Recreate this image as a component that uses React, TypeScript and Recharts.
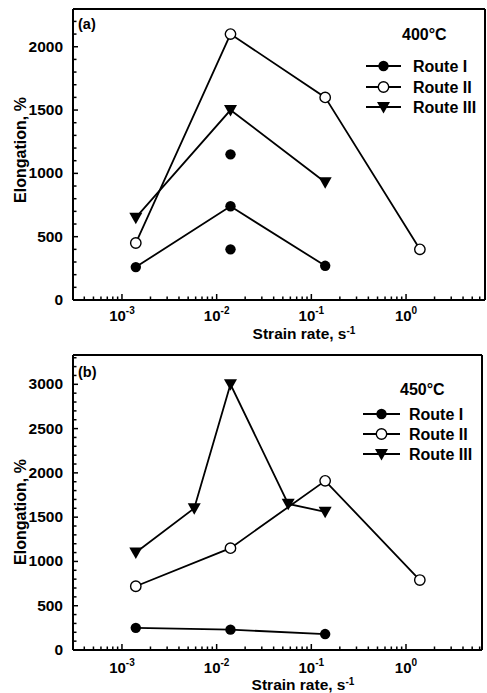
import React from 'react';
import { ComposedChart, Line, XAxis, YAxis, ReferenceLine } from 'recharts';

const FONT = '"Liberation Sans", Arial, Helvetica, sans-serif';

// ---- Data: panel (a) 400°C ----
const aRouteIRates = [1.4e-3, 1.4e-2, 1.4e-1];
const aRouteI = [260, 740, 270];
const aRouteIExtraRates = [1.4e-2, 1.4e-2];
const aRouteIExtra = [1150, 400];
const aRouteIIRates = [1.4e-3, 1.4e-2, 1.4e-1, 1.4];
const aRouteII = [450, 2100, 1600, 400];
const aRouteIIIRates = [1.4e-3, 1.4e-2, 1.4e-1];
const aRouteIII = [650, 1500, 930];

// ---- Data: panel (b) 450°C ----
const bRouteIRates = [1.4e-3, 1.4e-2, 1.4e-1];
const bRouteI = [250, 230, 180];
const bRouteIIRates = [1.4e-3, 1.4e-2, 1.4e-1, 1.4];
const bRouteII = [720, 1150, 1910, 790];
const bRouteIIIRates = [1.4e-3, 5.8e-3, 1.4e-2, 5.7e-2, 1.4e-1];
const bRouteIII = [1100, 1600, 3000, 1650, 1560];

// ---- Ticks ----
const xDecades = [1e-3, 1e-2, 1e-1, 1];
const xDecadeExponents = ['-3', '-2', '-1', '0'];
const yMajorA = [0, 500, 1000, 1500, 2000];
const yMajorB = [0, 500, 1000, 1500, 2000, 2500, 3000];
const legendNames = ['Route I', 'Route II', 'Route III'];

const zip = (xs: number[], ys: number[]) => xs.map((x, i) => ({ x, y: ys[i] }));

const X_MIN = 3.04e-4;

function minorXTicks(xMax: number) {
  const out: number[] = [];
  for (let d = -4; d <= 0; d++) {
    for (let m = 1; m <= 9; m++) {
      const v = m * Math.pow(10, d);
      if (v >= X_MIN && v <= xMax) out.push(v);
    }
  }
  return out;
}

function yTicksUpTo(max: number) {
  const out: number[] = [];
  for (let v = 0; v <= max; v += 100) out.push(v);
  return out;
}

type Kind = 'filled' | 'open' | 'tri';

function Marker({ kind, cx, cy }: { kind: Kind; cx: number; cy: number }) {
  if (kind === 'filled') return <circle cx={cx} cy={cy} r={5.2} fill="#000" />;
  if (kind === 'open') return <circle cx={cx} cy={cy} r={5.2} fill="#fff" stroke="#000" strokeWidth={1.4} />;
  return <path d={`M${cx - 6.5},${cy - 5}L${cx + 6.5},${cy - 5}L${cx},${cy + 6.5}Z`} fill="#000" />;
}

function XTick(props: any) {
  const { x, y, payload, labelDy } = props;
  const v = payload.value as number;
  const idx = xDecades.findIndex((d) => Math.abs(d - v) / d < 1e-6);
  const major = idx >= 0;
  return (
    <g>
      <line x1={x} x2={x} y1={y} y2={y - (major ? 6 : 3.5)} stroke="#000" strokeWidth={1.5} />
      {major && (
        <text x={x} y={y + labelDy} textAnchor="middle" fontFamily={FONT} fontWeight="bold" fontSize={15} fill="#000">
          10
          <tspan fontSize={10} dy={-7}>{xDecadeExponents[idx]}</tspan>
        </text>
      )}
    </g>
  );
}

function YTick(props: any) {
  const { x, y, payload, majors } = props;
  const v = payload.value as number;
  const major = majors.includes(v);
  return (
    <g>
      <line x1={x} x2={x + (major ? 5 : 3.5)} y1={y} y2={y} stroke="#000" strokeWidth={1.5} />
      {major && (
        <text x={x - 10} y={y + 5} textAnchor="end" fontFamily={FONT} fontWeight="bold" fontSize={15.5} fill="#000">
          {v}
        </text>
      )}
    </g>
  );
}

type Series = { data: { x: number; y: number }[]; kind: Kind; connect: boolean; name: string };

type PanelProps = {
  top: number;
  width: number;
  height: number;
  margin: { top: number; right: number; bottom: number; left: number };
  xAxisHeight: number;
  yMax: number;
  xMax: number;
  yMajors: number[];
  series: Series[];
  tickDy: number;
  titleDy: number;
  xTitleX: number;
  yTitleY: number;
  panelLabel: string;
  panelLabelY: number;
  temp: string;
  tempX: number;
  tempY: number;
  legendRows: number[];
  legendLineX: [number, number];
  legendTextX: number;
};

function Panel(p: PanelProps) {
  const plotBottom = p.height - p.margin.bottom - p.xAxisHeight;
  const kinds: Kind[] = ['filled', 'open', 'tri'];
  return (
    <div style={{ position: 'absolute', left: 0, top: p.top, width: p.width, height: p.height }}>
      <ComposedChart width={p.width} height={p.height} margin={p.margin}>
        <XAxis
          dataKey="x"
          type="number"
          scale="log"
          domain={[X_MIN, p.xMax]}
          allowDataOverflow
          ticks={minorXTicks(p.xMax)}
          interval={0}
          height={p.xAxisHeight}
          tickSize={0}
          tickMargin={0}
          tickLine={false}
          axisLine={{ stroke: '#000', strokeWidth: 2 }}
          tick={(tp: any) => <XTick {...tp} labelDy={p.tickDy} />}
        />
        <YAxis
          type="number"
          domain={[0, p.yMax]}
          allowDataOverflow
          ticks={yTicksUpTo(p.yMax)}
          interval={0}
          width={73}
          tickSize={0}
          tickMargin={0}
          tickLine={false}
          axisLine={{ stroke: '#000', strokeWidth: 2 }}
          tick={(tp: any) => <YTick {...tp} majors={p.yMajors} />}
        />
        <ReferenceLine y={p.yMax} stroke="#000" strokeWidth={2} />
        <ReferenceLine x={p.xMax} stroke="#000" strokeWidth={2} />
        {p.series.map((s, si) => (
          <Line
            key={si}
            data={s.data}
            dataKey="y"
            name={s.name}
            type="linear"
            stroke={s.connect ? '#000' : 'none'}
            strokeWidth={1.8}
            isAnimationActive={false}
            activeDot={false}
            dot={(dp: any) => (
              <g key={`d-${si}-${dp.index}`}>
                <Marker kind={s.kind} cx={dp.cx} cy={dp.cy} />
              </g>
            )}
          />
        ))}
      </ComposedChart>
      <svg
        width={p.width}
        height={p.height}
        style={{ position: 'absolute', left: 0, top: 0, pointerEvents: 'none', overflow: 'visible' }}
        fontFamily={FONT}
        fontWeight="bold"
      >
        <text
          x={26}
          y={p.yTitleY}
          transform={`rotate(-90, 26, ${p.yTitleY})`}
          textAnchor="middle"
          fontSize={16}
          fill="#000"
        >
          Elongation, %
        </text>
        <text x={p.xTitleX} y={plotBottom + p.titleDy} textAnchor="middle" fontSize={15.5} fill="#000">
          Strain rate, s
          <tspan fontSize={10} dy={-5}>-1</tspan>
        </text>
        <text x={78} y={p.panelLabelY} fontSize={14.5} fill="#000">
          {p.panelLabel}
        </text>
        <text x={p.tempX} y={p.tempY} fontSize={16} fill="#000">
          {p.temp}
        </text>
        {legendNames.map((n, i) => {
          const yy = p.legendRows[i];
          const cx = (p.legendLineX[0] + p.legendLineX[1]) / 2;
          return (
            <g key={n}>
              <line x1={p.legendLineX[0]} x2={p.legendLineX[1]} y1={yy} y2={yy} stroke="#000" strokeWidth={2} />
              <Marker kind={kinds[i]} cx={cx} cy={yy} />
              <text x={p.legendTextX} y={yy + 5.5} fontSize={16} fill="#000">
                {n}
              </text>
            </g>
          );
        })}
      </svg>
    </div>
  );
}

export default function App() {
  const seriesA: Series[] = [
    { data: zip(aRouteIRates, aRouteI), kind: 'filled', connect: true, name: 'Route I' },
    { data: zip(aRouteIExtraRates, aRouteIExtra), kind: 'filled', connect: false, name: 'Route I (extra)' },
    { data: zip(aRouteIIRates, aRouteII), kind: 'open', connect: true, name: 'Route II' },
    { data: zip(aRouteIIIRates, aRouteIII), kind: 'tri', connect: true, name: 'Route III' },
  ];
  const seriesB: Series[] = [
    { data: zip(bRouteIRates, bRouteI), kind: 'filled', connect: true, name: 'Route I' },
    { data: zip(bRouteIIRates, bRouteII), kind: 'open', connect: true, name: 'Route II' },
    { data: zip(bRouteIIIRates, bRouteIII), kind: 'tri', connect: true, name: 'Route III' },
  ];
  return (
    <div style={{ position: 'absolute', left: 0, top: 0, width: 487, height: 693, background: '#fff' }}>
      <Panel
        top={0}
        width={487}
        height={340}
        margin={{ top: 9, right: 2, bottom: 0, left: 0 }}
        xAxisHeight={40}
        yMax={2298}
        xMax={6.82}
        yMajors={yMajorA}
        series={seriesA}
        tickDy={21}
        titleDy={39}
        xTitleX={304}
        yTitleY={150}
        panelLabel="(a)"
        panelLabelY={29}
        temp="400°C"
        tempX={402}
        tempY={40}
        legendRows={[66, 87, 107]}
        legendLineX={[366, 401]}
        legendTextX={413}
      />
      <Panel
        top={340}
        width={487}
        height={353}
        margin={{ top: 15, right: 5, bottom: 0, left: 0 }}
        xAxisHeight={43}
        yMax={3331}
        xMax={6.35}
        yMajors={yMajorB}
        series={seriesB}
        tickDy={23}
        titleDy={40}
        xTitleX={303}
        yTitleY={172}
        panelLabel="(b)"
        panelLabelY={37}
        temp="450°C"
        tempX={400}
        tempY={55}
        legendRows={[74, 94, 114]}
        legendLineX={[363, 400]}
        legendTextX={409}
      />
    </div>
  );
}
